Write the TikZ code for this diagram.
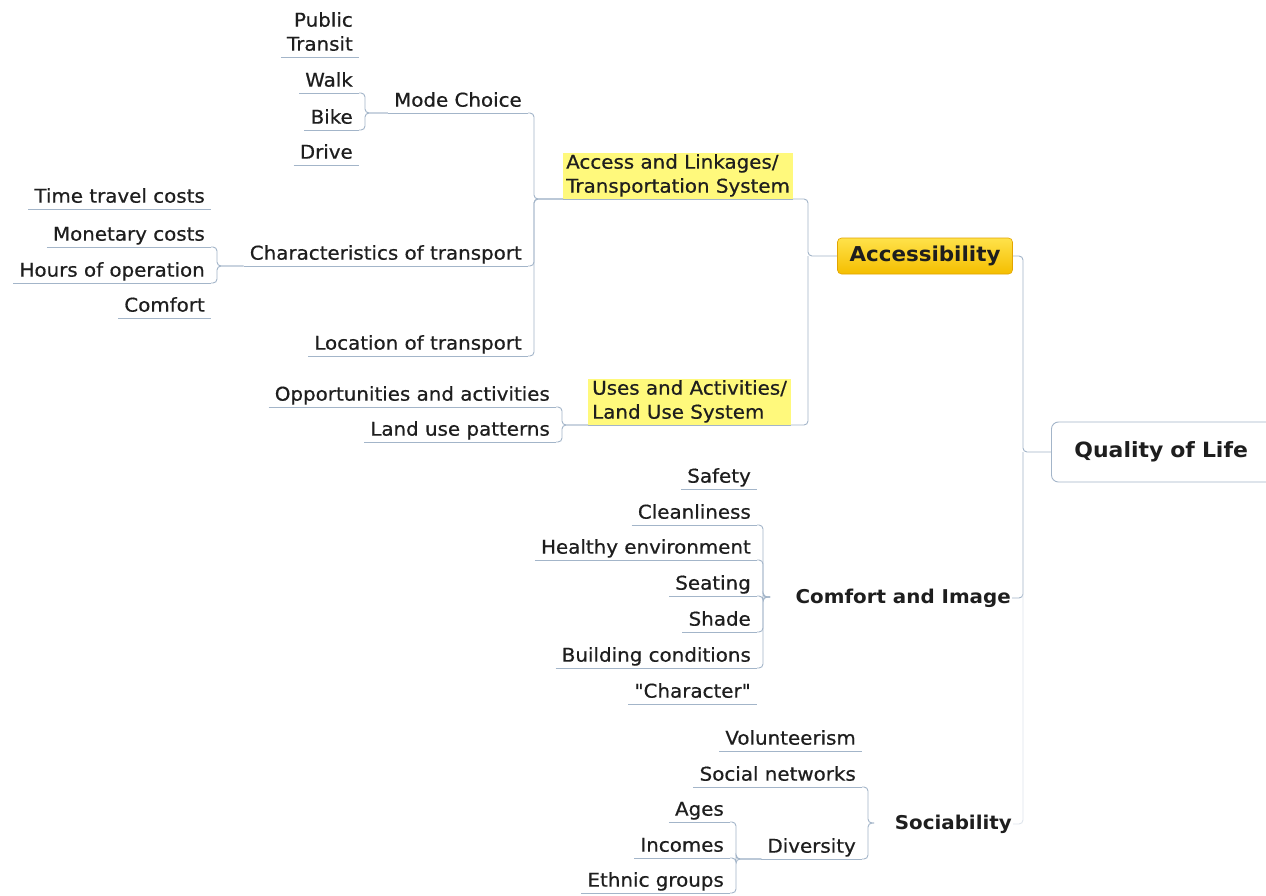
\documentclass[tikz,border=0pt]{standalone}
\usepackage{fontspec}
\setmainfont{DejaVu Sans}[FakeStretch=1.045, UprightFeatures={FakeBold=0.6}]
% same face without the TeX quote mapping, for straight quotes
\newfontfamily\plainq{DejaVu Sans}[FakeStretch=1.045, UprightFeatures={FakeBold=0.6}]
\definecolor{ink}{HTML}{1E1E1E}
\definecolor{rulecol}{HTML}{A3B5C9}
\definecolor{hilite}{HTML}{FFF97C}
\definecolor{goldtop}{HTML}{FFE24A}
\definecolor{goldbot}{HTML}{F4BE00}
\definecolor{goldedge}{HTML}{E2A400}
% strut giving every line the same height and depth
\newcommand\lnstrut{\rule[-0.26em]{0pt}{1em}}
\tikzset{
  topic/.style={text=ink, font=\fontsize{19}{24}\selectfont, inner xsep=6pt, inner ysep=1.2pt,
    execute at begin node=\lnstrut, execute at end node=\lnstrut},
  leaf/.style={topic, anchor=south east},
  branch/.style={topic, anchor=south west, align=left, fill=hilite, inner xsep=3pt},
  main/.style={text=ink, font=\fontsize{19}{24}\selectfont\bfseries, inner xsep=1pt, anchor=east},
  uline/.style={draw=rulecol, line width=0.9pt},
  conn/.style={draw=rulecol, line width=0.9pt, rounded corners=4pt},
  faint/.style={conn, draw=rulecol!35},
}
\begin{document}
\begin{tikzpicture}[x=1pt, y=-1pt]
\clip (0,0) rectangle (1266,895);
\fill[white] (0,0) rectangle (1266,895);

% Mode choice
\node[leaf, align=right] (pt) at (359,57) {Public\\Transit};
\node[leaf] (walk)  at (359,93)  {Walk};
\node[leaf] (bike)  at (359,130) {Bike};
\node[leaf] (drive) at (359,165) {Drive};
\node[leaf] (mode)  at (528,113) {Mode Choice};

% Characteristics of transport
\node[leaf] (ttc) at (211,209) {Time travel costs};
\node[leaf] (mon) at (211,247) {Monetary costs};
\node[leaf] (hrs) at (211,283) {Hours of operation};
\node[leaf] (cmf) at (211,318) {Comfort};
\node[leaf] (char) at (528,266) {Characteristics of transport};
\node[leaf] (loc)  at (528,356) {Location of transport};

% Transportation and land use systems
\node[branch] (access) at (563,199) {Access and Linkages/\\Transportation System};
\node[leaf] (opp) at (556,407) {Opportunities and activities};
\node[leaf] (lup) at (556,442) {Land use patterns};
\node[branch, inner xsep=4pt] (uses) at (588,425) {Uses and Activities/\\Land Use System};

% Accessibility
\node[text=ink, font=\fontsize{20.5}{24}\selectfont\bfseries, rounded corners=4pt,
      top color=goldtop, bottom color=goldbot, draw=goldedge, line width=0.6pt,
      minimum width=175pt, minimum height=36pt, inner sep=0pt] (acc) at (925,256) {Accessibility};

% Quality of life
\node[text=ink, font=\fontsize{21}{24}\selectfont\bfseries, anchor=west, draw=rulecol, line width=0.9pt,
      rounded corners=7pt, fill=white, text width=200pt, align=left, inner xsep=23pt,
      minimum height=60pt] (qol) at (1051,452) {Quality of Life};

% Comfort and image
\node[leaf] (safety)    at (757,489) {Safety};
\node[leaf] (clean)     at (757,525) {Cleanliness};
\node[leaf] (healthy)   at (757,560) {Healthy environment};
\node[leaf] (seating)   at (757,596) {Seating};
\node[leaf] (shade)     at (757,632) {Shade};
\node[leaf] (building)  at (757,668) {Building conditions};
\node[leaf] (character) at (757,704) {\plainq "Character"};
\node[main] (comfort) at (1012,598) {Comfort and Image};

% Sociability
\node[leaf] (vol)    at (862,751) {Volunteerism};
\node[leaf] (socnet) at (862,787) {Social networks};
\node[leaf] (div)    at (862,859) {Diversity};
\node[leaf] (ages)   at (730,822) {Ages};
\node[leaf] (inc)    at (730,858) {Incomes};
\node[leaf] (eth)    at (730,893) {Ethnic groups};
\node[main] (soc) at (1013,824) {Sociability};

% underlines of the topics
\foreach \n in {pt,walk,bike,drive,mode,ttc,mon,hrs,cmf,char,loc,access,uses,opp,lup,
                safety,clean,healthy,seating,shade,building,character,vol,socnet,div,ages,inc,eth}
  \draw[uline] (\n.south west) -- (\n.south east);

% joints
\coordinate (ajoin) at (808,256);
\coordinate (qjoin) at (1023,452);
\coordinate (cjoin) at (770,597);
\coordinate (sjoin) at (874,823);

% connectors
\foreach \c in {walk,bike}
  \draw[conn] (\c.south east) -- ++(6,0) |- (mode.south west);
\foreach \c in {mon,hrs}
  \draw[conn] (\c.south east) -- ++(6,0) |- (char.south west);
\foreach \c in {mode,char,loc}
  \draw[conn] (\c.south east) -- ++(6,0) |- (access.south west);
\foreach \c in {opp,lup}
  \draw[conn] (\c.south east) -- ++(6,0) |- (uses.south west);
\draw[conn] (access.south east) -| (ajoin) -- (acc.west);
\draw[conn] (uses.south east) -| (ajoin);
\foreach \c in {clean,healthy,seating,shade,building}
  \draw[conn] (\c.south east) -- ++(6,0) |- (cjoin);
\foreach \c in {socnet,div}
  \draw[conn] (\c.south east) -- ++(6,0) |- (sjoin);
\foreach \c in {ages,inc,eth}
  \draw[conn] (\c.south east) -- ++(6,0) |- (div.south west);
\draw[conn] (acc.east) -| (qjoin) -- (qol.west);
\draw[conn] (comfort.east) -| (qjoin);
\draw[faint] (soc.east) -| (qjoin);
\end{tikzpicture}
\end{document}
